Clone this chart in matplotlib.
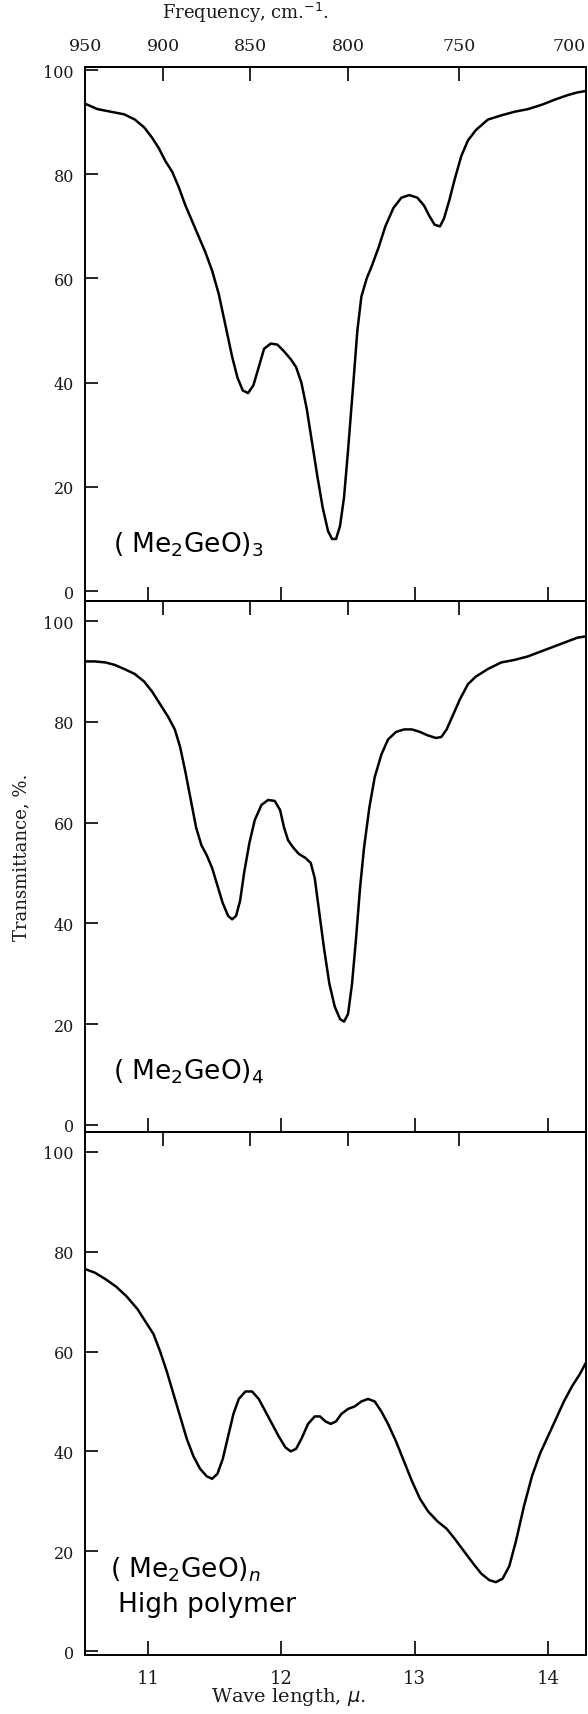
import matplotlib
matplotlib.use("Agg")
import matplotlib.pyplot as plt

# ---------------- data ----------------
wl_tri = [10.53, 10.62, 10.72, 10.82, 10.90, 10.97, 11.03, 11.08, 11.13, 11.18,
          11.23, 11.28, 11.33, 11.38, 11.43, 11.48, 11.53, 11.58, 11.63, 11.67,
          11.71, 11.75, 11.79, 11.83, 11.87, 11.92, 11.97, 12.02, 12.07, 12.11,
          12.15, 12.19, 12.23, 12.27, 12.31, 12.35, 12.38, 12.41, 12.44, 12.47,
          12.50, 12.54, 12.57, 12.60, 12.64, 12.68, 12.73, 12.78, 12.84, 12.90,
          12.96, 13.02, 13.07, 13.11, 13.15, 13.19, 13.22, 13.26, 13.30, 13.35,
          13.40, 13.46, 13.55, 13.65, 13.75, 13.85, 13.95, 14.05, 14.15, 14.22, 14.29]
t_tri = [93.5, 92.5, 92, 91.5, 90.5, 89, 87, 85, 82.5, 80.5,
         77.5, 74, 71, 68, 65, 61.5, 57, 51, 45, 41,
         38.5, 38, 39.5, 43, 46.5, 47.5, 47.3, 46, 44.5, 43,
         40, 35, 28.5, 22, 16, 11.5, 10, 10, 12.5, 18,
         27, 40, 50, 56.5, 60, 62.5, 66, 70, 73.5, 75.5,
         76, 75.5, 74, 72, 70.3, 70, 71.5, 75, 79, 83.5,
         86.5, 88.5, 90.5, 91.3, 92, 92.5, 93.3, 94.3, 95.2, 95.7, 96]

wl_tet = [10.53, 10.60, 10.68, 10.75, 10.82, 10.90, 10.97, 11.03, 11.09, 11.15,
          11.20, 11.24, 11.28, 11.32, 11.36, 11.40, 11.44, 11.48, 11.52, 11.56,
          11.60, 11.63, 11.66, 11.69, 11.72, 11.76, 11.80, 11.85, 11.90, 11.95,
          11.99, 12.02, 12.05, 12.09, 12.13, 12.18, 12.22, 12.25, 12.28, 12.32,
          12.36, 12.40, 12.44, 12.47, 12.50, 12.53, 12.56, 12.59, 12.62, 12.66,
          12.70, 12.75, 12.80, 12.86, 12.92, 12.98, 13.04, 13.10, 13.16, 13.20,
          13.24, 13.29, 13.34, 13.40, 13.46, 13.55, 13.65, 13.75, 13.85, 13.95,
          14.05, 14.15, 14.22, 14.29]
t_tet = [92, 92, 91.8, 91.3, 90.5, 89.5, 88, 86, 83.5, 81,
         78.5, 75, 70, 64.5, 59, 55.5, 53.5, 51, 47.5, 44,
         41.5, 40.8, 41.5, 44.5, 50, 56, 60.5, 63.5, 64.5, 64.3,
         62.5, 59, 56.5, 55, 53.8, 53, 52, 49, 43, 35,
         28, 23.5, 21, 20.5, 22, 28, 37, 47, 55, 63,
         69, 73.5, 76.5, 78, 78.5, 78.5, 78, 77.3, 76.8, 77,
         78.5, 81.5, 84.5, 87.5, 89, 90.5, 91.8, 92.3, 93, 94,
         95, 96, 96.7, 97]

wl_poly = [10.53, 10.60, 10.68, 10.76, 10.84, 10.92, 10.98, 11.04, 11.09, 11.14,
           11.19, 11.24, 11.29, 11.34, 11.39, 11.44, 11.48, 11.52, 11.56, 11.60,
           11.64, 11.68, 11.73, 11.78, 11.83, 11.88, 11.93, 11.98, 12.03, 12.07,
           12.11, 12.15, 12.20, 12.25, 12.29, 12.33, 12.37, 12.41, 12.45, 12.50,
           12.55, 12.60, 12.65, 12.70, 12.75, 12.80, 12.86, 12.92, 12.98, 13.04,
           13.10, 13.17, 13.24, 13.30, 13.37, 13.44, 13.50, 13.56, 13.61, 13.66,
           13.71, 13.76, 13.82, 13.88, 13.94, 14.00, 14.06, 14.12, 14.18, 14.24, 14.29]
t_poly = [76.5, 75.8, 74.5, 73, 71, 68.5, 66, 63.5, 60, 56,
          51.5, 47, 42.5, 39, 36.5, 35, 34.5, 35.5, 38.5, 43,
          47.5, 50.5, 52, 52, 50.5, 48, 45.5, 43, 40.8, 40,
          40.5, 42.5, 45.5, 47, 47, 46, 45.5, 46, 47.5, 48.5,
          49, 50, 50.5, 50, 48, 45.5, 42, 38, 34, 30.5,
          28, 26, 24.5, 22.5, 20, 17.5, 15.5, 14.2, 13.8, 14.5,
          17, 22, 29, 35, 39.5, 43, 46.5, 50, 53, 55.5, 58]

freq_ticks = [950, 900, 850, 800, 750, 700]
wl_ticks = [11, 12, 13, 14]
y_ticks = [0, 20, 40, 60, 80, 100]
labels = ["( Me$_2$GeO)$_3$", "( Me$_2$GeO)$_4$", "( Me$_2$GeO)$_n$"]

# ---------------- style ----------------
plt.rcParams["font.family"] = ["DejaVu Serif"]
plt.rcParams["mathtext.fontset"] = "dejavusans"

fig = plt.figure(figsize=(5.88, 17.15), dpi=100)

panel_rects = [[0.1446, 0.6490, 0.852, 0.3114],
               [0.1446, 0.3394, 0.852, 0.3096],
               [0.1446, 0.0344, 0.852, 0.3050]]
panel_ylims = [(-1.9, 100.6), (-1.4, 104), (-0.8, 104)]
series = [(wl_tri, t_tri), (wl_tet, t_tet), (wl_poly, t_poly)]

x_lo, x_hi = 10000.0 / 950, 10000.0 / 700

def to_freq(x):
    return 10000.0 / x

txt_col = "#1a1a1a"
axes = []
for i, (rect, ylim, (wl, tr)) in enumerate(zip(panel_rects, panel_ylims, series)):
    ax = fig.add_axes(rect)
    ax.plot(wl, tr, color="black", lw=1.8, solid_joinstyle="round",
            solid_capstyle="round")
    ax.set_xlim(x_lo, x_hi)
    ax.set_ylim(*ylim)
    for s in ax.spines.values():
        s.set_linewidth(1.4)
    ax.set_yticks(y_ticks)
    ax.tick_params(axis="y", direction="in", length=9, width=1.2, pad=8,
                   labelsize=11.5, labelcolor=txt_col)
    ax.set_xticks(wl_ticks)
    ax.tick_params(axis="x", direction="in", length=10, width=1.2, pad=10,
                   labelsize=13, labelcolor=txt_col,
                   labelbottom=(i == 2))
    sec = ax.secondary_xaxis("top", functions=(to_freq, to_freq))
    sec.set_xticks(freq_ticks)
    sec.tick_params(direction="in", length=10, width=1.2, pad=9,
                    labelsize=12.5, labelcolor=txt_col, labeltop=(i == 0))
    sec.spines["top"].set_linewidth(1.4)
    if i == 0:
        ticks = sec.xaxis.get_major_ticks()
        ticks[-1].label2.set_horizontalalignment("right")
    axes.append(ax)

# annotations
ann = dict(fontsize=19, family="DejaVu Sans", va="baseline", color="black")
axes[0].text(0.055, 0.092, labels[0], transform=axes[0].transAxes, **ann)
axes[1].text(0.055, 0.10, labels[1], transform=axes[1].transAxes, **ann)
axes[2].text(0.05, 0.15, labels[2], transform=axes[2].transAxes, **ann)
axes[2].text(0.065, 0.085, "High polymer", transform=axes[2].transAxes, **ann)

fig.text(0.418, 0.9924, "Frequency, cm.$^{-1}$.", fontsize=13,
         ha="center", va="center", color=txt_col)
fig.text(0.49, 0.004, "Wave length, $\\mu$.", fontsize=14,
         ha="center", va="bottom", color=txt_col)
fig.text(0.036, 0.50, "Transmittance, %.", rotation=90, fontsize=13,
         ha="center", va="center", color=txt_col)

fig.savefig("out.png", dpi=100)
